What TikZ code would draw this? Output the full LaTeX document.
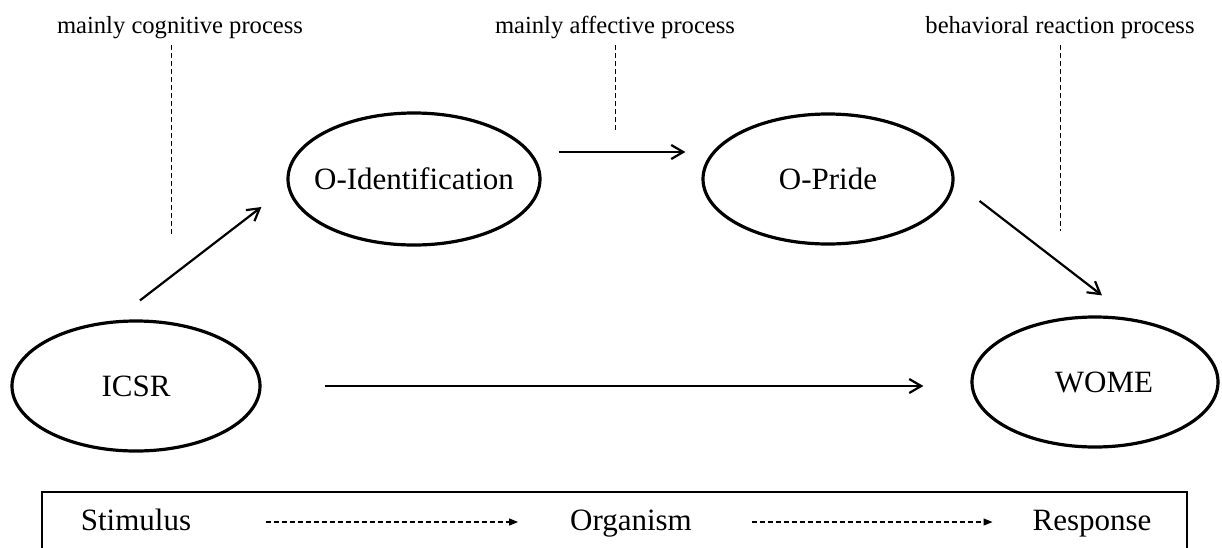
\documentclass[tikz,border=0pt]{standalone}
\usepackage{fontspec}
\setmainfont{Liberation Serif}
\usetikzlibrary{positioning,shapes.geometric,arrows.meta}
\newcommand{\mainsize}{\fontsize{15.5}{18}\selectfont}
\newcommand{\notesize}{\fontsize{12.3}{14}\selectfont}
\tikzset{construct/.style={shape=ellipse, draw, line width=1.6pt, minimum width=124pt, minimum height=65pt, inner sep=0pt},
  flow/.style={line width=1.1pt, -{Straight Barb[length=6pt,width=7pt]}},
  guide/.style={line width=0.5pt, dash pattern=on 2.5pt off 1.5pt},
  sor/.style={line width=0.6pt, dash pattern=on 2.5pt off 1.5pt, -{Triangle[length=4.5pt,width=3.5pt]}},
  process/.style={font=\notesize, anchor=base},
  stage/.style={anchor=base},
  frame/.style={line width=1pt}}

\begin{document}
\begin{tikzpicture}[x=0.5pt, y=-0.5pt, font=\mainsize]
\clip (0,0) rectangle (1222,547);

\node[construct, label=center:ICSR] (icsr) at (136,386) {};
\node[construct, minimum width=126pt, minimum height=66pt, label=center:O-Identification] (oid) at (414,179) {};
\node[construct, minimum width=125pt, label=center:O-Pride] (opride) at (828,179) {};
\node[construct, minimum width=123pt, label={[xshift=4.5pt]center:WOME}] (wome) at (1095,382) {};

\node[process] (cog) at (180,33) {mainly cognitive process};
\node[process] (aff) at (615,33) {mainly affective process};
\node[process] (beh) at (1060,33) {behavioral reaction process};

\draw[guide] ([xshift=-4.5pt]cog.south) -- ++(0,189);
\draw[guide] (aff.south) -- ++(0,85);
\draw[guide] (beh.south) -- ++(0,186);

\draw[flow] ([shift={(2pt,9.5pt)}]icsr.north) -- ([shift={(-12.5pt,-14pt)}]oid.west);
\draw[flow] ([shift={(8.5pt,13.5pt)}]oid.east) -- ([shift={(-8pt,13.5pt)}]opride.west);
\draw[flow] ([shift={(12.5pt,-11pt)}]opride.east) -- ([shift={(3.5pt,10pt)}]wome.north);
\draw[flow] ([xshift=31.5pt]icsr.east) -- ([xshift=-23.5pt,yshift=-2pt]wome.west);

\draw[frame] (42,492) rectangle (1187,560);
\node[stage] (stim) at (136,530) {Stimulus};
\node[stage] (org) at (631,530) {Organism};
\node[stage] (resp) at (1092,530) {Response};
\draw[sor] ([shift={(34pt,4pt)}]stim.base east) -- ([shift={(-22.5pt,4pt)}]org.base west);
\draw[sor] ([shift={(26.5pt,4pt)}]org.base east) -- ([shift={(-16.5pt,4pt)}]resp.base west);
\end{tikzpicture}
\end{document}
